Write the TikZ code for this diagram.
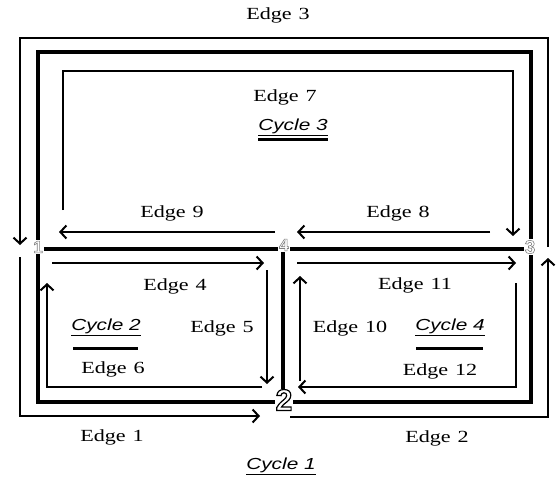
\documentclass[tikz,border=0pt]{standalone}
\usepackage{fontspec}
\setmainfont{Liberation Serif}
\newfontfamily\edgefont{Liberation Serif}[FakeStretch=1.3]
\newfontfamily\cyclefont{Liberation Sans}[FakeStretch=1.3]
\newfontfamily\numfont{Liberation Sans}
\usetikzlibrary{arrows.meta}
\tikzset{
  thinline/.style={line width=1.5pt},
  graphline/.style={line width=4.5pt},
  arr/.style={-{Straight Barb[length=6pt,width=13pt,line width=2pt]}},
  edgelabel/.style={font=\edgefont\fontsize{17}{20}\selectfont, inner sep=0pt},
  cyclelabel/.style={font=\cyclefont\itshape\fontsize{16}{19}\selectfont, inner sep=1pt},
  bar/.style={line width=3pt},
  vertex/.style={fill=white, inner sep=1pt},
}
\newcommand{\outlined}[2]{\special{pdf:literal direct 1 Tr #1 w}#2\special{pdf:literal direct 0 Tr}}
\begin{document}
\begin{tikzpicture}[x=1pt,y=-1pt]
\useasboundingbox (0,0) rectangle (556,480);

% graph (thick)
\draw[graphline] (38,52) rectangle (531,402);
\draw[graphline] (38,249) -- (531,249);
\draw[graphline] (283,249) -- (283,402);

% vertices
\node[vertex, text=gray, font=\numfont\bfseries\fontsize{17}{17}\selectfont] (v1) at (38,247) {\outlined{0.6}{1}};
\node[vertex, text=gray, font=\numfont\bfseries\fontsize{17}{17}\selectfont] (v4) at (284,245) {\outlined{0.6}{4}};
\node[vertex, text=gray, font=\numfont\bfseries\fontsize{19}{19}\selectfont] (v3) at (530,247) {\outlined{0.6}{3}};
\node[vertex, text=black, font=\numfont\bfseries\fontsize{30}{30}\selectfont] (v2) at (284,400) {\outlined{1.2}{2}};

% coordinates for cycle paths
\coordinate (e3s) at (548,247);
\coordinate (e3e) at (20,245);
\coordinate (e1s) at (20,257);
\coordinate (e1e) at (260,416);
\coordinate (e2s) at (290,417);
\coordinate (e2e) at (548,258);
\coordinate (e7s) at (63,210);
\coordinate (e7e) at (513,236);
\coordinate (e8s) at (490,232);
\coordinate (e8e) at (297,232);
\coordinate (e9s) at (275,232);
\coordinate (e9e) at (59,232);
\coordinate (e4s) at (52,263);
\coordinate (e4e) at (264,263);
\coordinate (e5s) at (267,270);
\coordinate (e5e) at (267,384);
\coordinate (e6s) at (262,387);
\coordinate (e6e) at (47,283);
\coordinate (e11s) at (297,263);
\coordinate (e11e) at (516,263);
\coordinate (e12s) at (516,283);
\coordinate (e12e) at (298,387);
\coordinate (e10s) at (300,381);
\coordinate (e10e) at (300,276);

% Cycle 1
\draw[thinline,arr] (e3s) |- (20,38) -- (e3e);
\draw[thinline,arr] (e1s) |- (e1e);
\draw[thinline,arr] (e2s) -| (e2e);
% Cycle 3
\draw[thinline,arr] (e7s) |- (513,71) -- (e7e);
\draw[thinline,arr] (e8s) -- (e8e);
\draw[thinline,arr] (e9s) -- (e9e);
% Cycle 2
\draw[thinline,arr] (e4s) -- (e4e);
\draw[thinline,arr] (e5s) -- (e5e);
\draw[thinline,arr] (e6s) -| (e6e);
% Cycle 4
\draw[thinline,arr] (e11s) -- (e11e);
\draw[thinline,arr] (e12s) |- (e12e);
\draw[thinline,arr] (e10s) -- (e10e);

% edge labels
\node[edgelabel] (l3) at (278,15) {Edge\hspace{7pt}3};
\node[edgelabel] (l7) at (285,97) {Edge\hspace{7pt}7};
\node[edgelabel] (l9) at (172,213) {Edge\hspace{7pt}9};
\node[edgelabel] (l8) at (398,213) {Edge\hspace{7pt}8};
\node[edgelabel] (l4) at (175,286) {Edge\hspace{7pt}4};
\node[edgelabel] (l11) at (415,285) {Edge\hspace{7pt}11};
\node[edgelabel] (l5) at (222,328) {Edge\hspace{7pt}5};
\node[edgelabel] (l10) at (350,328) {Edge\hspace{7pt}10};
\node[edgelabel] (l6) at (113,369) {Edge\hspace{7pt}6};
\node[edgelabel] (l12) at (440,371) {Edge\hspace{7pt}12};
\node[edgelabel] (l1) at (112,437) {Edge\hspace{7pt}1};
\node[edgelabel] (l2) at (437,438) {Edge\hspace{7pt}2};

% cycle labels
\node[cyclelabel] (c3) at (293,127) {\underline{Cycle 3}};
\node[cyclelabel] (c2) at (106,327) {\underline{Cycle 2}};
\node[cyclelabel] (c4) at (450,327) {\underline{Cycle 4}};
\node[cyclelabel] (c1) at (281,466) {\underline{Cycle 1}};
\draw[bar] (258,139) -- (328,139);
\draw[bar] (73,348) -- (138,348);
\draw[bar] (416,348) -- (483,348);
\end{tikzpicture}
\end{document}
